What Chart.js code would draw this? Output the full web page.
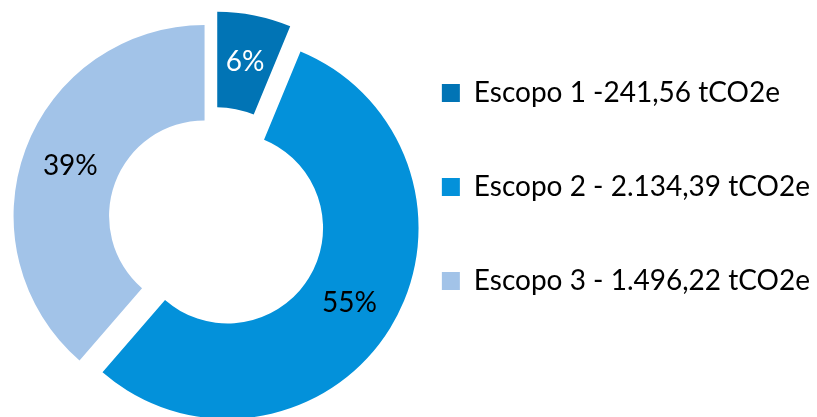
<!DOCTYPE html>
<html>
<head>
<meta charset="utf-8">
<script src="https://cdn.jsdelivr.net/npm/chart.js@4/dist/chart.umd.min.js"></script>
<style>
  html, body { margin: 0; padding: 0; background: #fff; }
  canvas { display: block; }
</style>
</head>
<body>
<canvas id="escoposChart" width="817" height="417"></canvas>
<script>
// Emissões por escopo (tCO2e)
const labels = [
  "Escopo 1 -241,56 tCO2e",
  "Escopo 2 - 2.134,39 tCO2e",
  "Escopo 3 - 1.496,22 tCO2e",
];
const emissions = [241.56, 2134.39, 1496.22];

const colors = ["#0174b5", "#0391da", "#a2c3e8"];
const labelColors = ["#ffffff", "#000000", "#000000"];
// how far each slice is pulled out of the ring (px)
const explode = [17, 16, 10];

const FONT = "Lato";

// pull slices out along their mid angle
const explodePlugin = {
  id: "explode",
  afterDatasetsUpdate(chart) {
    chart.getDatasetMeta(0).data.forEach((arc, i) => {
      const mid = (arc.startAngle + arc.endAngle) / 2;
      arc.x += Math.cos(mid) * explode[i];
      arc.y += Math.sin(mid) * explode[i];
    });
  },
};

// percentage labels in the middle of each slice
const percentPlugin = {
  id: "percentLabels",
  afterDatasetsDraw(chart) {
    const ctx = chart.ctx;
    const values = chart.data.datasets[0].data;
    const total = values.reduce((a, b) => a + b, 0);
    ctx.save();
    ctx.font = `28px ${FONT}`;
    ctx.textAlign = "center";
    ctx.textBaseline = "middle";
    chart.getDatasetMeta(0).data.forEach((arc, i) => {
      const pos = arc.tooltipPosition();
      ctx.fillStyle = labelColors[i];
      ctx.fillText(Math.round((values[i] / total) * 100) + "%", pos.x, pos.y);
    });
    ctx.restore();
  },
};

const ctx = document.getElementById("escoposChart").getContext("2d");
new Chart(ctx, {
  type: "doughnut",
  data: {
    labels: labels,
    datasets: [
      {
        data: emissions,
        backgroundColor: colors,
        borderWidth: 0,
      },
    ],
  },
  options: {
    responsive: false,
    animation: false,
    events: [],
    radius: 191,
    cutout: "50%",
    layout: {
      padding: { left: 6, right: -3, top: 59, bottom: 37 },
    },
    plugins: {
      tooltip: { enabled: false },
      legend: {
        position: "right",
        align: "start",
        labels: {
          boxWidth: 18,
          boxHeight: 18,
          padding: 20,
          color: "#000",
          font: { family: FONT, size: 28, lineHeight: "74px" },
          // single-line arrays so the row height follows the font lineHeight
          generateLabels(chart) {
            const items = Chart.overrides.doughnut.plugins.legend.labels.generateLabels(chart);
            return items.map((item) => ({ ...item, text: [item.text] }));
          },
        },
      },
    },
  },
  plugins: [explodePlugin, percentPlugin],
});
</script>
</body>
</html>
